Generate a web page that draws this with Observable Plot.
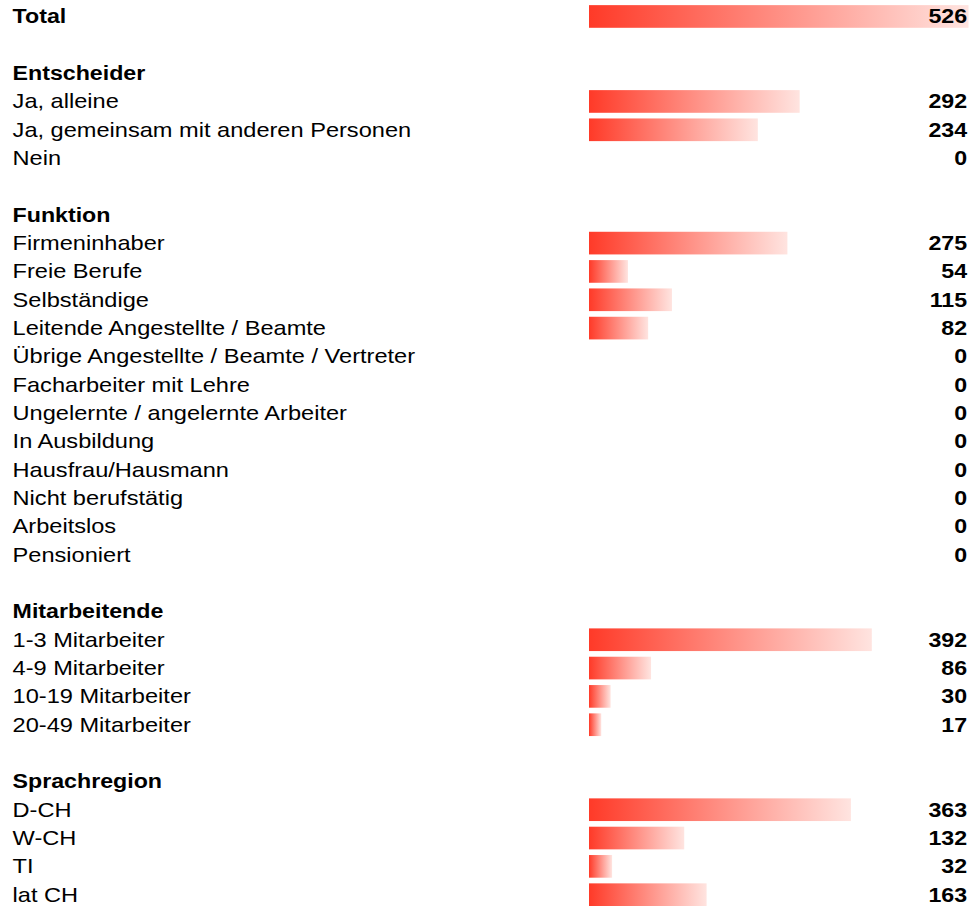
<!DOCTYPE html>
<html>
<head>
<meta charset="utf-8">
<script src="https://cdn.jsdelivr.net/npm/d3@7"></script>
<script src="https://cdn.jsdelivr.net/npm/@observablehq/plot@0.6"></script>
<style>
  html, body { margin: 0; padding: 0; background: #fff; }
  #chart svg { display: block; }
</style>
</head>
<body>
<div id="chart"></div>
<script>
// Row labels in display order; "" marks an empty spacer row
const labels = [
  "Total", "",
  "Entscheider", "Ja, alleine", "Ja, gemeinsam mit anderen Personen", "Nein", "",
  "Funktion", "Firmeninhaber", "Freie Berufe", "Selbständige", "Leitende Angestellte / Beamte",
  "Übrige Angestellte / Beamte / Vertreter", "Facharbeiter mit Lehre", "Ungelernte / angelernte Arbeiter",
  "In Ausbildung", "Hausfrau/Hausmann", "Nicht berufstätig", "Arbeitslos", "Pensioniert", "",
  "Mitarbeitende", "1-3 Mitarbeiter", "4-9 Mitarbeiter", "10-19 Mitarbeiter", "20-49 Mitarbeiter", "",
  "Sprachregion", "D-CH", "W-CH", "TI", "lat CH"
];

// Counts per row (null = header or spacer, no bar)
const counts = [
  526, null,
  null, 292, 234, 0, null,
  null, 275, 54, 115, 82, 0, 0, 0, 0, 0, 0, 0, 0, null,
  null, 392, 86, 30, 17, null,
  null, 363, 132, 32, 163
];

// Rows printed in bold
const boldRows = ["Total", "Entscheider", "Funktion", "Mitarbeitende", "Sprachregion"];

const rows = labels.map((label, i) => ({
  i, label, value: counts[i], bold: boldRows.includes(label)
}));
const bars = rows.filter(d => d.value != null && d.value > 0);
const valued = rows.filter(d => d.value != null);
const W = 970, H = 906;
const font = "'Liberation Sans', Arial, Helvetica, sans-serif";
const stretchLabel = 1.18; // wide-set lettering of the row labels
const stretchBold = 1.16;  // ... of the bold headings and values
const labelLeft = 12;      // left edge of the row labels
const valueRight = 966.5;  // right edge of the value column

const chart = Plot.plot({
  width: W,
  height: H,
  margin: 0,
  style: { fontFamily: font, background: "#fff" },
  x: { domain: [0, 526], range: [589, 968.5], axis: null },
  y: {
    type: "band",
    domain: rows.map(d => d.i),
    range: [2.3, 2.3 + 32 * 28.33],
    paddingInner: 0.2,
    paddingOuter: 0.1,
    round: false,
    axis: null
  },
  marks: [
    Plot.barX(bars, { x1: 0, x2: "value", y: "i", fill: "url(#barFade)" }),
    Plot.text(rows.filter(d => !d.bold && d.label), {
      y: "i", text: "label", frameAnchor: "left", textAnchor: "start",
      fontSize: 20, fill: "#000"
    }),
    Plot.text(rows.filter(d => d.bold), {
      y: "i", text: "label", frameAnchor: "left", textAnchor: "start",
      fontSize: 20, fontWeight: "bold", fill: "#000"
    }),
    Plot.text(valued, {
      y: "i", text: d => String(d.value), frameAnchor: "right", textAnchor: "end",
      fontSize: 20, fontWeight: "bold", fill: "#000"
    })
  ]
});

const svg = d3.select(chart);

// Widen the lettering horizontally, pinned at each column's anchor edge;
// Plot's own band offset on each layer is kept underneath.
function widen(node, prefix) {
  const own = node.getAttribute("transform") || "";
  node.setAttribute("transform", `${prefix} ${own}`.trim());
}
const textLayers = svg.selectAll('g[aria-label="text"]').nodes();
widen(textLayers[0], `translate(${labelLeft},0) scale(${stretchLabel},1)`);
widen(textLayers[1], `translate(${labelLeft},0) scale(${stretchBold},1)`);
widen(textLayers[2], `translate(${valueRight},0) scale(${stretchBold},1) translate(${-W},0)`);

// Horizontal red-to-white fade applied to each bar
const grad = svg.insert("defs", ":first-child")
  .append("linearGradient")
  .attr("id", "barFade")
  .attr("x1", "0").attr("y1", "0").attr("x2", "1").attr("y2", "0");
grad.append("stop").attr("offset", "0").attr("stop-color", "#ff3a28");
grad.append("stop").attr("offset", "1").attr("stop-color", "#ffe4e0");

document.getElementById("chart").appendChild(chart);
</script>
</body>
</html>
